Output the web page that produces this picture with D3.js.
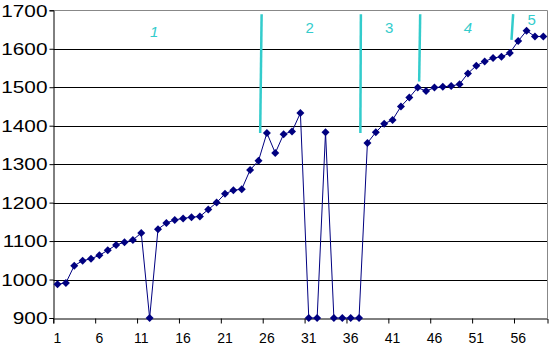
<html>
  <head>
    <style>
      body { margin: 0; background: #fff; }
      svg  { display: block; font-family: "Liberation Sans", Arial, sans-serif; }
    </style>
  </head>
  <body>
    <svg width="550" height="346"></svg>
    <script src="https://d3js.org/d3.v7.min.js"></script>
    <script>
      // measurements, one per sample
      var values = [988, 991, 1036, 1049, 1054, 1063, 1076, 1090, 1097, 1103,
                    1121, 900, 1131, 1147, 1155, 1159, 1162, 1164, 1182, 1200,
                    1223, 1232, 1235, 1285, 1309, 1381, 1329, 1378, 1385, 1433,
                    900, 900, 1383, 900, 900, 900, 900, 1355, 1383, 1405,
                    1415, 1450, 1473, 1499, 1490, 1499, 1501, 1503, 1508, 1536,
                    1556, 1567, 1576, 1579, 1589, 1620, 1647, 1632, 1632];
      var categories = d3.range(1, values.length + 1);
      var xTickLabels = [1, 6, 11, 16, 21, 26, 31, 36, 41, 46, 51, 56];
      var yTicks = [900, 1000, 1100, 1200, 1300, 1400, 1500, 1600, 1700];

      // phase separators (hand drawn in the original), in category units
      var sepTopX    = [25.37, 37.22, 44.30, 55.40];
      var sepBottomX = [25.20, 37.16, 44.18, 55.20];
      var sepTopY    = [1690, 1690, 1690, 1690];
      var sepBottomY = [1381, 1381, 1515, 1623];

      var phaseLabels = ["1", "2", "3", "4", "5"];
      var phaseX      = [12.55, 31.1, 40.6, 50.0, 57.6];
      var phaseY      = [1644, 1654, 1655, 1655, 1676];

      var svg = d3.select("svg");
      var plotLeft = 53.3, plotRight = 547.5, plotTop = 10.3, plotBottom = 318;

      var x = d3.scaleLinear().domain([0.5, values.length + 0.5]).range([plotLeft, plotRight]);
      var y = d3.scaleLinear().domain([900, 1700]).range([plotBottom, plotTop]);

      // gridlines
      svg.append("g")
          .selectAll("line")
          .data(yTicks.filter(function(d) { return d > 900 && d < 1700; }))
          .enter().append("line")
          .attr("x1", plotLeft).attr("x2", plotRight)
          .attr("y1", function(d) { return Math.round(y(d)) + 0.5; })
          .attr("y2", function(d) { return Math.round(y(d)) + 0.5; })
          .attr("stroke", "#000")
          .attr("stroke-width", 1);

      // grey plot border (top and right)
      svg.append("path")
          .attr("d", "M" + plotLeft + "," + 10.5 + "H" + 547.5 + "V" + plotBottom)
          .attr("fill", "none")
          .attr("stroke", "#888")
          .attr("stroke-width", 1);

      // y axis
      var yAxis = svg.append("g")
          .attr("transform", "translate(53.5,0)")
          .call(d3.axisLeft(y).tickValues(yTicks).tickSize(4).tickPadding(2).tickFormat(d3.format("d")));
      yAxis.select(".domain").attr("stroke", "#000");
      yAxis.selectAll(".tick line").attr("stroke", "#000");
      yAxis.selectAll("text")
          .attr("fill", "#000")
          .attr("font-size", 16)
          .attr("font-family", "Liberation Sans, Arial, sans-serif")
          .attr("dy", "0.36em")
          .each(function() {
            var t = d3.select(this);
            t.attr("transform", "translate(" + t.attr("x") + ",0) scale(1.3,1)").attr("x", 0);
          });

      // x axis: ticks between categories every 5, labels on categories
      var xAxis = svg.append("g")
          .attr("transform", "translate(0,318.5)")
          .call(d3.axisBottom(x).tickValues(xTickLabels.map(function(d) { return d - 0.5; }))
                .tickSize(5).tickFormat(""));
      xAxis.select(".domain").attr("stroke", "#000");
      xAxis.selectAll(".tick line").attr("stroke", "#000");

      svg.append("g")
          .selectAll("text")
          .data(xTickLabels)
          .enter().append("text")
          .attr("x", function(d) { return x(d); })
          .attr("y", 343)
          .attr("text-anchor", "middle")
          .attr("font-size", 14)
          .attr("fill", "#000")
          .text(function(d) { return d; });

      // phase separators
      svg.append("g")
          .selectAll("line")
          .data(sepTopX)
          .enter().append("line")
          .attr("x1", function(d) { return x(d); })
          .attr("y1", function(d, i) { return y(sepTopY[i]); })
          .attr("x2", function(d, i) { return x(sepBottomX[i]); })
          .attr("y2", function(d, i) { return y(sepBottomY[i]); })
          .attr("stroke", "#33CCCC")
          .attr("stroke-width", 2.5);

      svg.append("g")
          .selectAll("text")
          .data(phaseLabels)
          .enter().append("text")
          .attr("x", function(d, i) { return x(phaseX[i]); })
          .attr("y", function(d, i) { return y(phaseY[i]); })
          .attr("dy", "0.36em")
          .attr("text-anchor", "middle")
          .attr("font-size", 15)
          .attr("font-style", function(d) { return (d === "1" || d === "4") ? "italic" : "normal"; })
          .attr("fill", "#33CCCC")
          .text(function(d) { return d; });

      // series
      var line = d3.line()
          .x(function(d, i) { return x(categories[i]); })
          .y(function(d) { return y(d); });

      svg.append("path")
          .datum(values)
          .attr("d", line)
          .attr("fill", "none")
          .attr("stroke", "#000080")
          .attr("stroke-width", 1);

      svg.append("g")
          .selectAll("path")
          .data(values)
          .enter().append("path")
          .attr("transform", function(d, i) { return "translate(" + x(categories[i]) + "," + y(d) + ")"; })
          .attr("d", "M0,-4L4,0L0,4L-4,0Z")
          .attr("fill", "#000080");
    </script>
  </body>
</html>
